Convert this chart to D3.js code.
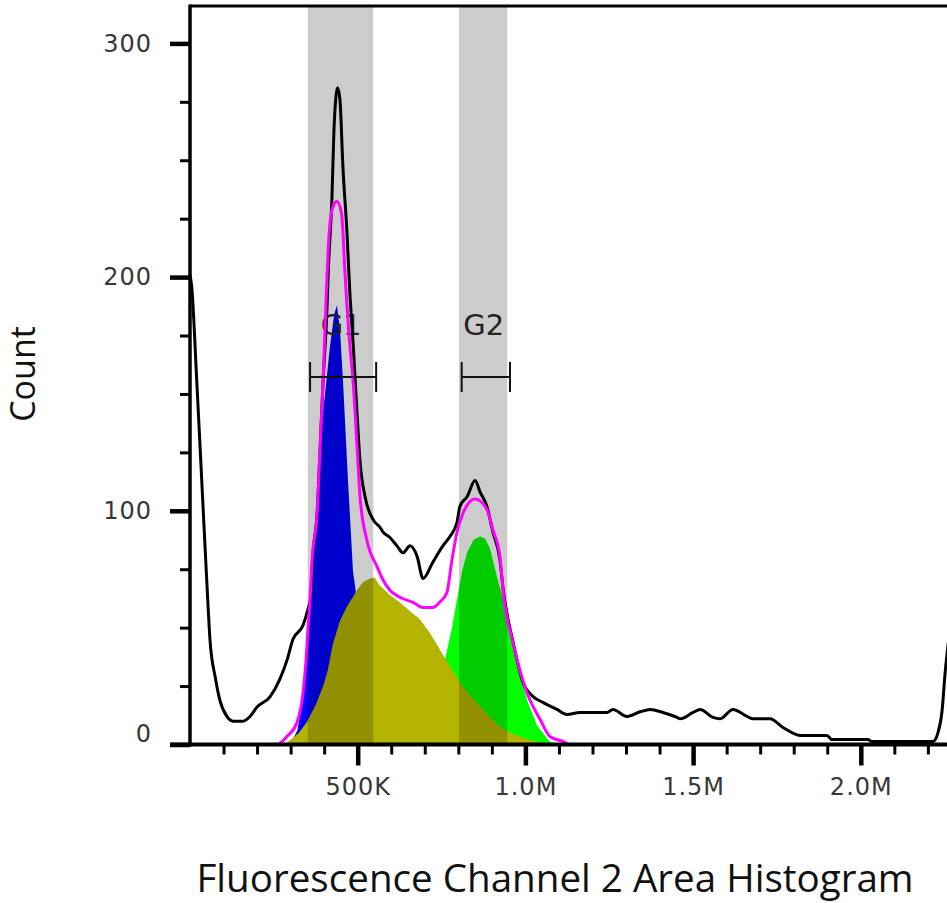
<!DOCTYPE html>
<html>
<head>
<meta charset="utf-8">
<script src="https://cdn.jsdelivr.net/npm/d3@7"></script>
<style>
  html, body { margin: 0; padding: 0; background: #fff; }
  svg { display: block; }
</style>
</head>
<body>
<svg id="chart" width="947" height="903"></svg>
<script>
// Channel values are in thousands (K); counts are events per bin.

// Raw DNA content histogram
const totalHistogram = [
  [0,201],[5,196],[20,156],[35,113],[50,70],[60,44],[75,29],[89,19],[110,12],[128,10],
  [158,10],[179,12],[200,16],[239,20.5],[268,28],[289,36],[307,45],[337,51],[352,58],[360,63],
  [366,80],[379,99],[388,127],[397,156],[408,185],[413,205],[423,233],[429,262],[435,277],[440,281],
  [447,276],[456,247],[468,219],[476,195],[487,170],[498,142],[507,121],[522,106],[547,96],[566,93],
  [575,91],[596,88.6],[617,85],[635,82],[656,85],[677,80.5],[695,71],[724,78],[754,85],[775,89],
  [796,95],[805,102],[826,106],[850,113],[865,108],[885,102],[903,91],[924,79],[934,66],[963,44],
  [993,26.5],[1023,20.5],[1052,18],[1094,15],[1124,12.8],[1163,13.7],[1243,13.7],[1261,15],[1303,12],[1342,14],
  [1372,15],[1410,13.7],[1452,11.6],[1461,11],[1500,13.7],[1521,15],[1559,11.6],[1580,11],[1619,15],[1661,12],
  [1679,11],[1729,11],[1768,7.3],[1819,3.9],[1899,3.9],[1914,2.1],[2021,2.1],[2033,1.3],[2215,1.3],[2230,5],
  [2242,14],[2251,30],[2262,45]
];

// Sum of the fitted cell-cycle model
const fitTotal = [
  [0,0],[259,0],[289,3.4],[319,9.4],[337,22],[346,36],[352,50],[358,62],[364,79],[379,99],
  [388,127.5],[397,156],[407,195],[415,219],[426,230],[438,232.5],[452,227],[462,202],[467,190],[477,170],
  [486,156],[498,127.5],[507,106],[527,87.6],[558,76],[575,70.6],[596,66],[626,63],[665,60.8],[695,58.6],
  [724,58.6],[745,61],[766,65],[781,79],[796,90.7],[814,99],[850,105],[885,100.6],[903,92],[924,80.5],
  [934,65],[963,43.6],[1005,22],[1044,10.7],[1073,3.4],[1112,1.3],[1133,0],[2262,0]
];

// G1 peak component
const g1Fit = [
  [298,0],[320,6],[337,20],[348,36],[355,55],[364,72],[375,95],[382,113],[397,142],[417,170],
  [430,184],[438,188],[447,178],[456,156],[471,113],[486,74],[492,68],[507,48],[522,30],[537,16],
  [566,4],[596,0]
];

// S phase component
const sPhaseFit = [
  [280,0],[300,2],[325,5],[348,9.5],[375,17],[397,25],[411,32],[426,43],[447,53],[468,59],
  [498,66],[516,69.5],[537,71],[550,71.5],[566,68],[596,64],[626,60.8],[656,57],[686,53.5],[716,47.5],
  [745,40.7],[775,33.5],[805,26.5],[835,21],[865,16.3],[895,11.5],[924,7.7],[954,5],[984,3.4],[1014,1.8],
  [1044,0.9],[1073,0.3],[1103,0]
];

// G2 peak component
const g2Fit = [
  [640,0],[670,2],[700,8],[730,20],[760,36],[781,50],[796,62],[811,74],[826,82],[845,87.5],
  [865,89],[880,88],[894,84],[915,72],[945,56],[975,36],[1005,19],[1035,8],[1073,1.3],[1090,0]
];

// Gates
const gateNames = ["G1", "G2"];
const gateBands = [[351, 546.5], [802, 946]];
const gateMarkers = [[358, 555], [810, 954]];

// Axes
const xMajorTicks = [500, 1000, 1500, 2000];
const xMajorLabels = ["500K", "1.0M", "1.5M", "2.0M"];
const yMajorTicks = [0, 100, 200, 300];
const yMajorLabels = ["0", "100", "200", "300"];
const xTitle = "Fluorescence Channel 2 Area Histogram";
const yTitle = "Count";

// ---- layout ----
const plotL = 190, plotR = 947, plotT = 6, plotB = 744.5;
const markerY = 377, capHalf = 15, gateLabelY = 335;
const tickFont = "'DejaVu Sans', Verdana, sans-serif";

const svg = d3.select("#chart");

const x = d3.scaleLinear().domain([0, 2257]).range([plotL, plotR]);
const y = d3.scaleLinear().domain([0, 316]).range([plotB, plotT]);

svg.append("defs").append("clipPath").attr("id", "plot-clip")
  .append("rect").attr("x", plotL).attr("y", plotT - 2)
  .attr("width", plotR - plotL).attr("height", plotB - plotT + 2);

const plot = svg.append("g").attr("clip-path", "url(#plot-clip)");

const area = d3.area()
  .x(d => x(d[0]))
  .y0(y(0))
  .y1(d => y(d[1]))
  .curve(d3.curveLinear);

const line = d3.line()
  .x(d => x(d[0]))
  .y(d => y(d[1]))
  .curve(d3.curveMonotoneX);

// model components: G1, G2, then S phase drawn over them
plot.append("path").datum(g1Fit).attr("d", area).attr("fill", "#0000ff");
plot.append("path").datum(g2Fit).attr("d", area).attr("fill", "#00ff00");
plot.append("path").datum(sPhaseFit).attr("d", area).attr("fill", "#b4b400");

// gate shading (translucent, darkens whatever is beneath)
plot.selectAll("rect.band").data(gateBands).join("rect")
  .attr("class", "band")
  .attr("x", d => x(d[0]))
  .attr("width", d => x(d[1]) - x(d[0]))
  .attr("y", plotT)
  .attr("height", plotB - plotT)
  .attr("fill", "#000")
  .attr("fill-opacity", 0.2);

// gate names sit beneath the curves
svg.append("g").selectAll("text").data(gateMarkers).join("text")
  .attr("x", d => (x(d[0]) + x(d[1])) / 2 - 2)
  .attr("y", gateLabelY)
  .attr("text-anchor", "middle")
  .attr("font-family", tickFont)
  .attr("font-size", 29)
  .attr("fill", "#222")
  .text((d, i) => gateNames[i]);

// histogram and fitted sum
const curves = svg.append("g").attr("clip-path", "url(#plot-clip)");
curves.append("path").datum(totalHistogram).attr("d", line)
  .attr("fill", "none").attr("stroke", "#000").attr("stroke-width", 3)
  .attr("stroke-linejoin", "round");
curves.append("path").datum(fitTotal).attr("d", line)
  .attr("fill", "none").attr("stroke", "#ff00ff").attr("stroke-width", 3)
  .attr("stroke-linejoin", "round");

// ---- axes ----
const yMajor = svg.append("g").attr("transform", `translate(${plotL},0)`)
  .call(d3.axisLeft(y).tickValues(yMajorTicks).tickSize(20).tickPadding(18)
    .tickFormat((d, i) => yMajorLabels[i]));
const yMinor = svg.append("g").attr("transform", `translate(${plotL},0)`)
  .call(d3.axisLeft(y).tickValues(d3.range(25, 316, 25).filter(v => v % 100 !== 0))
    .tickSize(10).tickFormat(""));

const xMajor = svg.append("g").attr("transform", `translate(0,${plotB})`)
  .call(d3.axisBottom(x).tickValues(xMajorTicks).tickSize(21).tickPadding(12)
    .tickFormat((d, i) => xMajorLabels[i]));
const xMinor = svg.append("g").attr("transform", `translate(0,${plotB})`)
  .call(d3.axisBottom(x).tickValues(d3.range(100, 2257, 100).filter(v => v % 500 !== 0))
    .tickSize(10).tickFormat(""));

[yMajor, yMinor, xMajor, xMinor].forEach(g => g.select(".domain").remove());
[yMajor, xMajor].forEach(g => g.selectAll(".tick line").attr("stroke", "#000").attr("stroke-width", 4.5));
[yMinor, xMinor].forEach(g => g.selectAll(".tick line").attr("stroke", "#000").attr("stroke-width", 3));
[yMajor, xMajor].forEach(g => g.selectAll(".tick text")
  .attr("font-family", tickFont).attr("font-size", 24).attr("letter-spacing", 1).attr("fill", "#383838"));

// the zero label sits a little above its tick
yMajor.selectAll(".tick").filter(d => d === 0).select("text").attr("y", -11);

// frame lines
svg.append("line").attr("x1", plotL).attr("x2", plotL).attr("y1", plotT - 1.5).attr("y2", plotB + 2)
  .attr("stroke", "#000").attr("stroke-width", 3.5);
svg.append("line").attr("x1", plotL).attr("x2", plotR).attr("y1", plotT).attr("y2", plotT)
  .attr("stroke", "#000").attr("stroke-width", 3);
svg.append("line").attr("x1", plotL - 20).attr("x2", plotR).attr("y1", plotB).attr("y2", plotB)
  .attr("stroke", "#000").attr("stroke-width", 4);

// ---- gate range markers ----
const markers = svg.append("g").attr("stroke", "#111").attr("stroke-width", 2);
gateMarkers.forEach(m => {
  const x0 = x(m[0]), x1 = x(m[1]);
  markers.append("line").attr("x1", x0).attr("x2", x1).attr("y1", markerY).attr("y2", markerY);
  markers.append("line").attr("x1", x0).attr("x2", x0).attr("y1", markerY - capHalf).attr("y2", markerY + capHalf);
  markers.append("line").attr("x1", x1).attr("x2", x1).attr("y1", markerY - capHalf).attr("y2", markerY + capHalf);
});

// ---- titles ----
svg.append("text")
  .attr("x", 555).attr("y", 892)
  .attr("text-anchor", "middle")
  .attr("font-family", "'Open Sans', 'Noto Sans', sans-serif")
  .attr("font-size", 38.6)
  .attr("fill", "#111")
  .text(xTitle);

svg.append("text")
  .attr("transform", "translate(35,374) rotate(-90)")
  .attr("text-anchor", "middle")
  .attr("font-family", "'Open Sans', 'Noto Sans', sans-serif")
  .attr("font-size", 34)
  .attr("fill", "#111")
  .text(yTitle);
</script>
</body>
</html>
